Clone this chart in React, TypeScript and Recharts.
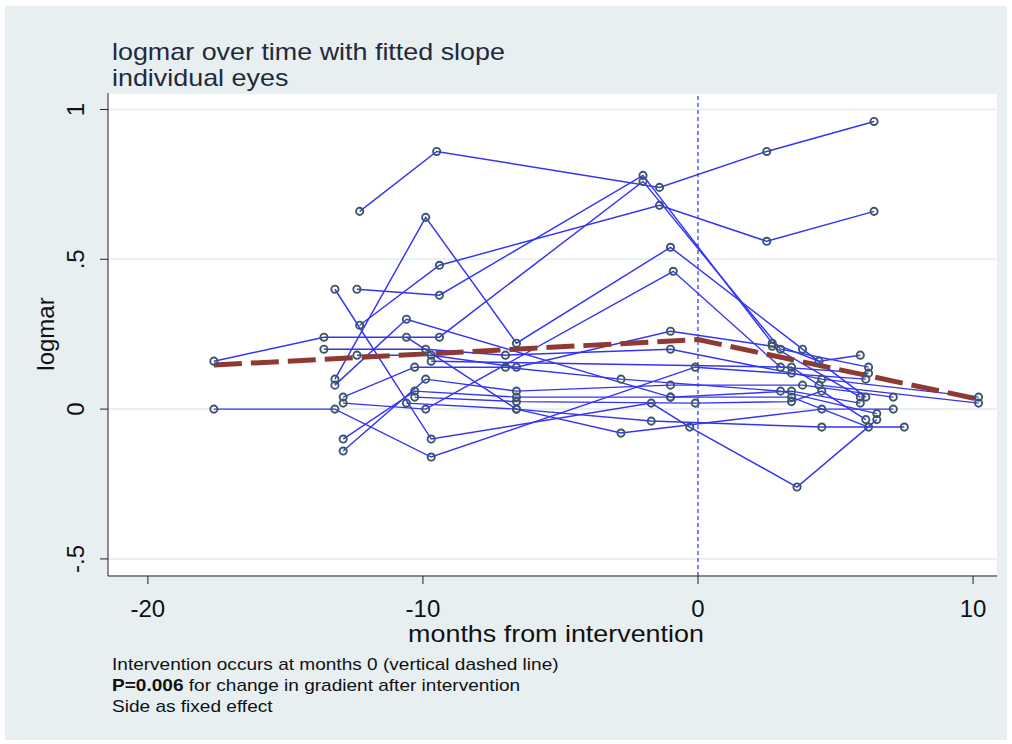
import { ComposedChart, Line, XAxis, YAxis, CartesianGrid, ReferenceLine } from "recharts";

// months from intervention, one array per eye
const eyeMonths: number[][] = [
  [-12.3, -9.5, -1.4, 2.5, 6.4],
  [-12.3, -9.4, -1.4, 2.5, 6.4],
  [-13.2, -9.9, -6.6, -1.0, 3.8, 6.1],
  [-12.4, -9.4, -2.0, 2.7, 4.4, 5.9],
  [-17.6, -13.6, -9.4, -2.0, 3.0, 6.2],
  [-17.6, -13.2, -9.7, -0.1, 6.1],
  [-12.9, -9.9, -0.9, 3.0, 6.2],
  [-13.2, -9.7, -1.7, -0.3, 3.6, 6.5],
  [-12.9, -10.3, -6.6, -1.0, 3.4, 6.2],
  [-12.9, -9.9, -6.6, -1.0, 3.8, 7.1],
  [-12.9, -10.3, -7.0, -2.8, 3.0, 6.5],
  [-10.6, -6.6, -1.7, 4.5, 7.5],
  [-13.6, -9.9, -7.0, -1.0, 3.4, 4.5, 10.2],
  [-12.4, -9.7, -6.6, -1.0, 2.7, 5.9],
  [-13.2, -10.6, -1.0, 3.4, 5.9],
  [-10.6, -6.6, -2.8, 4.5, 7.1],
  [-10.3, -6.6, -0.1, 3.4, 4.5, 6.1],
  [-9.7, 3.4, 4.4, 10.2],
];

// logmar per visit, same order as eyeMonths
const eyeLogmar: number[][] = [
  [0.66, 0.86, 0.74, 0.86, 0.96],
  [0.28, 0.48, 0.68, 0.56, 0.66],
  [0.1, 0.64, 0.22, 0.54, 0.2, 0.04],
  [0.4, 0.38, 0.78, 0.22, 0.16, 0.18],
  [0.16, 0.24, 0.24, 0.76, 0.2, 0.14],
  [0, 0, -0.16, 0.14, 0.1],
  [0.02, 0, 0.46, 0.14, 0.12],
  [0.4, -0.1, 0.02, -0.06, -0.26, -0.035],
  [-0.1, 0.06, 0.04, 0.04, 0.04, -0.06],
  [-0.14, 0.1, 0.06, 0.08, 0.08, 0.04],
  [0.04, 0.14, 0.14, 0.1, 0.06, -0.015],
  [0.02, 0, -0.04, -0.06, -0.06],
  [0.2, 0.2, 0.18, 0.2, 0.12, 0.1, 0.04],
  [0.18, 0.18, 0.14, 0.26, 0.21, 0.04],
  [0.08, 0.3, 0.04, 0.06, 0.02],
  [0.24, 0, -0.08, 0, 0],
  [0.04, 0.025, 0.02, 0.025, 0.06, -0.035],
  [0.16, 0.14, 0.08, 0.02],
];

// fitted piecewise slope
const fitMonths = [-17.6, 0, 10.2];
const fitLogmar = [0.147, 0.232, 0.033];

const xTicks = [-20, -10, 0, 10];
const yTicks = [-0.5, 0, 0.5, 1];
const yTickLabels: Record<string, string> = { "-0.5": "-.5", "0": "0", "0.5": ".5", "1": "1" };

const eyes = eyeMonths.map((ms, i) => ms.map((m, j) => ({ month: m, logmar: eyeLogmar[i][j] })));
const fit = fitMonths.map((m, i) => ({ month: m, logmar: fitLogmar[i] }));

const FONT = "'Liberation Sans', Arial, Helvetica, sans-serif";

const XTick = (props: any) => (
  <text x={props.x} y={props.y + 31} textAnchor="middle" fontSize={24} fontFamily={FONT} fill="#111">
    {props.payload.value}
  </text>
);

const YTick = (props: any) => {
  const x = props.x - 14;
  return (
    <text x={x} y={props.y} textAnchor="middle" fontSize={24} fontFamily={FONT} fill="#111"
      transform={`rotate(-90, ${x}, ${props.y})`}>
      {yTickLabels[String(props.payload.value)]}
    </text>
  );
};

const EyeDot = (p: any) => (
  <circle key={p.key ?? p.index} cx={p.cx} cy={p.cy} r={3.6} fill="none" stroke="#3c5568" strokeWidth={1.9} />
);

export default function App() {
  return (
    <div style={{ position: "absolute", left: 0, top: 0, width: 1012, height: 744, background: "#fff", fontFamily: FONT }}>
      <div style={{ position: "absolute", left: 5, top: 6, width: 1002, height: 734, background: "#e8eff1" }} />
      <div style={{ position: "absolute", left: 0, top: 0 }}>
        <ComposedChart width={1012} height={744} margin={{ top: 93, right: 15, bottom: 128, left: 48 }}>
          <CartesianGrid vertical={false} fill="#fff" stroke="#e9f0f2" strokeWidth={2} />
          <XAxis dataKey="month" type="number" domain={[-21.45, 10.87]} ticks={xTicks} allowDataOverflow
            height={40} tickSize={8} tick={<XTick />} stroke="#222" interval={0} />
          <YAxis dataKey="logmar" type="number" domain={[-0.557, 1.055]} ticks={yTicks} allowDataOverflow
            width={60} tickSize={8} tick={<YTick />} stroke="#222" interval={0} />
          <ReferenceLine x={0} stroke="#4b4bf2" strokeWidth={1.4} strokeDasharray="4 3" />
          {eyes.map((rows, i) => (
            <Line key={i} data={rows} dataKey="logmar" type="linear" stroke="#3434f4" strokeWidth={1.45}
              dot={EyeDot} activeDot={false} isAnimationActive={false} />
          ))}
          <Line data={fit} dataKey="logmar" type="linear" stroke="#8e3a33" strokeWidth={5}
            strokeDasharray="28 9" dot={false} activeDot={false} isAnimationActive={false} />
        </ComposedChart>
      </div>
      <div style={{ position: "absolute", left: 46, top: 334, width: 0, height: 0 }}>
        <div style={{ position: "absolute", transform: "translate(-50%, -50%) rotate(-90deg)", fontSize: 24, whiteSpace: "nowrap", color: "#111" }}>
          logmar
        </div>
      </div>
      <div style={{ position: "absolute", left: 112, top: 39, fontSize: 24, lineHeight: "26px", color: "#1f2a3c",
        whiteSpace: "nowrap", transform: "scaleX(1.12)", transformOrigin: "0 0" }}>
        logmar over time with fitted slope<br />individual eyes
      </div>
      <div style={{ position: "absolute", left: 556, top: 621, fontSize: 24, lineHeight: "26px", color: "#111",
        whiteSpace: "nowrap", transform: "translateX(-50%) scaleX(1.12)" }}>
        months from intervention
      </div>
      <div style={{ position: "absolute", left: 112, top: 654, fontSize: 17, lineHeight: "21px", color: "#111",
        whiteSpace: "nowrap", transform: "scaleX(1.12)", transformOrigin: "0 0" }}>
        Intervention occurs at months 0 (vertical dashed line)<br />
        <b>P=0.006</b> for change in gradient after intervention<br />
        Side as fixed effect
      </div>
    </div>
  );
}
